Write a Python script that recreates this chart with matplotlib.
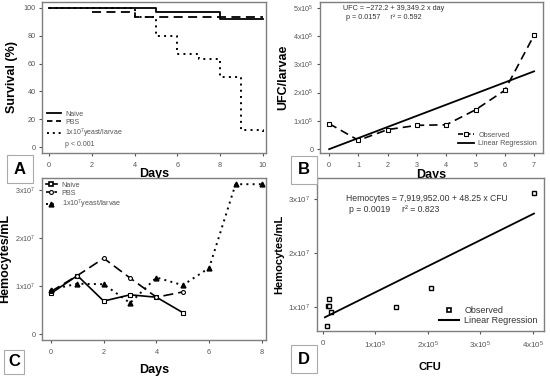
import matplotlib
matplotlib.use("Agg")
import matplotlib.pyplot as plt
from matplotlib.lines import Line2D
import numpy as np

plt.rcParams['font.family'] = ['Liberation Sans', 'DejaVu Sans']
plt.rcParams['mathtext.default'] = 'regular'

# A: survival curves (step changes)
naive_days = [0, 5, 8, 10]
naive_surv = [100, 96.7, 91.7, 91.7]
pbs_days = [2, 4, 10]
pbs_surv = [96.7, 93.7, 93.7]
yeast_days = [0, 4, 5, 6, 7, 8, 9, 10]
yeast_surv = [100, 93.7, 80, 66.7, 63.3, 50, 12.5, 8.5]

# B: fungal burden
b_days = [0, 1, 2, 3, 4, 5, 6, 7]
b_ufc = [0.90e5, 0.31e5, 0.69e5, 0.84e5, 0.86e5, 1.39e5, 2.08e5, 4.03e5]
b_intercept = -272.2
b_slope = 39349.2

# C: hemocytes over time
c_naive_days = [0, 1, 2, 3, 4, 5]
c_naive = [0.85e7, 1.22e7, 0.69e7, 0.82e7, 0.77e7, 0.45e7]
c_pbs_days = [0, 1, 2, 3, 4, 5]
c_pbs = [0.89e7, 1.22e7, 1.58e7, 1.17e7, 0.77e7, 0.88e7]
c_yeast_days = [0, 1, 2, 3, 4, 5, 6, 7, 8]
c_yeast = [0.93e7, 1.05e7, 1.04e7, 0.65e7, 1.18e7, 1.02e7, 1.38e7, 3.12e7, 3.12e7]

# D: hemocytes vs CFU
d_cfu = [0.09e5, 0.12e5, 0.11e5, 0.13e5, 0.16e5, 1.39e5, 2.06e5, 4.02e5]
d_hemo = [0.648e7, 1.154e7, 1.02e7, 1.03e7, 0.92e7, 1.0e7, 1.36e7, 3.12e7]
d_intercept = 7919952.00
d_slope = 48.25
d_fit_x = [0.044e5, 4.02e5]

gray = '#7f7f7f'
tick_col = '#555555'

fig = plt.figure(figsize=(5.5, 3.76), dpi=100)
axA = fig.add_axes([0.0764, 0.593, 0.407, 0.402])
axB = fig.add_axes([0.582, 0.593, 0.405, 0.402])
axC = fig.add_axes([0.0764, 0.0957, 0.407, 0.431])
axD = fig.add_axes([0.576, 0.1197, 0.413, 0.407])

def style(ax):
    for s in ax.spines.values():
        s.set_color(gray)
        s.set_linewidth(1.0)
    ax.tick_params(colors=tick_col, labelsize=5.2, length=2.5, width=0.8, pad=2)
    ax.tick_params(axis='x', pad=4)

for ax in (axA, axB, axC, axD):
    style(ax)

# Panel A
axA.step(naive_days, naive_surv, where='post', color='black', lw=1.3)
axA.step(pbs_days, pbs_surv, where='post', color='black', lw=1.3, ls=(0, (5, 3)))
axA.step(yeast_days, yeast_surv, where='post', color='black', lw=1.4, ls=(0, (1, 2.2)))
axA.set_xlim(-0.33, 10.14)
axA.set_ylim(-4.3, 104.3)
axA.set_xticks([0, 2, 4, 6, 8, 10])
axA.set_yticks([0, 20, 40, 60, 80, 100])
axA.set_ylabel('Survival (%)', fontsize=9, fontweight='bold', labelpad=4)
axA.set_xlabel('Days', fontsize=9, fontweight='bold', labelpad=-1)
hA = [Line2D([], [], color='black', lw=1.3),
      Line2D([], [], color='black', lw=1.3, ls=(0, (3, 2))),
      Line2D([], [], color='black', lw=1.4, ls=(0, (1, 2))),
      Line2D([], [], color='none')]
axA.legend(hA, ['Naive', 'PBS', '1x10$^7$yeast/larvae', 'p < 0.001'],
           loc='lower left', fontsize=5, frameon=False, handlelength=2,
           labelspacing=0.15, borderaxespad=0.3, handletextpad=0.6,
           labelcolor=tick_col)

# Panel B
axB.plot(b_days, b_ufc, color='black', lw=1.2, ls=(0, (5, 3)), marker='s',
         ms=3, mfc='white', mec='black', mew=0.8)
bx = np.array([b_days[0], b_days[-1]])
axB.plot(bx, b_intercept + b_slope * bx, color='black', lw=1.3)
axB.set_xlim(-0.31, 7.3)
axB.set_ylim(-0.14e5, 5.21e5)
axB.set_xticks(range(8))
axB.set_yticks([0, 1e5, 2e5, 3e5, 4e5, 5e5])
axB.set_yticklabels(['0'] + ['%dx10$^5$' % i for i in range(1, 6)])
axB.set_ylabel('UFC/larvae', fontsize=9, fontweight='bold', labelpad=3)
axB.set_xlabel('Days', fontsize=9, fontweight='bold', labelpad=0)
axB.text(0.105, 0.955, 'UFC = \u2212272.2 + 39,349.2 x day', transform=axB.transAxes,
         fontsize=5.2, color='#333333', va='center')
axB.text(0.115, 0.895, 'p = 0.0157     r\u00b2 = 0.592', transform=axB.transAxes,
         fontsize=5.2, color='#333333', va='center')
hB = [Line2D([], [], color='black', lw=1.2, ls=(0, (3, 1.5)), marker='s', ms=3,
             mfc='white', mec='black', mew=0.8),
      Line2D([], [], color='black', lw=1.3)]
axB.legend(hB, ['Observed', 'Linear Regression'], loc='lower right', fontsize=5.2,
           frameon=False, handlelength=2.2, labelspacing=0.2, borderaxespad=0.4,
           handletextpad=0.6, labelcolor=tick_col)

# Panel C
axC.plot(c_naive_days, c_naive, color='black', lw=1.2, marker='s', ms=2.8,
         mfc='white', mec='black', mew=0.8)
axC.plot(c_pbs_days, c_pbs, color='black', lw=1.2, ls=(0, (6, 3)), marker='o',
         ms=2.8, mfc='white', mec='black', mew=0.8)
axC.plot(c_yeast_days, c_yeast, color='black', lw=1.4, ls=(0, (1, 2.2)), marker='^',
         ms=3.5, mfc='black', mec='black')
axC.set_xlim(-0.34, 8.15)
axC.set_ylim(-0.12e7, 3.25e7)
axC.set_xticks([0, 2, 4, 6, 8])
axC.set_yticks([0, 1e7, 2e7, 3e7])
axC.set_yticklabels(['0', '1x10$^7$', '2x10$^7$', '3x10$^7$'])
axC.set_ylabel('Hemocytes/mL', fontsize=9, fontweight='bold', labelpad=3)
axC.set_xlabel('Days', fontsize=9, fontweight='bold', labelpad=6)
hC = [Line2D([], [], color='black', lw=1.2, marker='s', ms=3, mfc='white',
             mec='black', mew=1.2),
      Line2D([], [], color='black', lw=1.2, ls=(0, (3, 2)), marker='o', ms=2.8,
             mfc='white', mec='black', mew=0.8),
      Line2D([], [], color='black', lw=1.4, ls=(0, (1, 2)), marker='^', ms=3.5,
             mfc='black', mec='black')]
axC.legend(hC, ['Naive', 'PBS', '1x10$^7$yeast/larvae'], loc='upper left',
           fontsize=5.2, frameon=False, handlelength=1.6, labelspacing=0.15,
           borderaxespad=0.1, handletextpad=0.6, labelcolor=tick_col)

# Panel D
axD.plot(d_cfu, d_hemo, ls='none', marker='s', ms=3.2, mfc='white', mec='black',
         mew=1.0)
dx = np.array(d_fit_x)
axD.plot(dx, d_intercept + d_slope * dx, color='black', lw=1.3)
axD.set_xlim(-0.11e5, 4.21e5)
axD.set_ylim(0.56e7, 3.39e7)
axD.set_xticks([0, 1e5, 2e5, 3e5, 4e5])
axD.set_xticklabels(['0'] + ['%dx10$^5$' % i for i in range(1, 5)])
axD.set_yticks([1e7, 2e7, 3e7])
axD.set_yticklabels(['1x10$^7$', '2x10$^7$', '3x10$^7$'])
axD.tick_params(labelsize=5.8)
axD.set_ylabel('Hemocytes/mL', fontsize=8, fontweight='bold', labelpad=3)
axD.set_xlabel('CFU', fontsize=8, fontweight='bold', labelpad=8)
axD.text(0.13, 0.865, 'Hemocytes = 7,919,952.00 + 48.25 x CFU', transform=axD.transAxes,
         fontsize=6.2, color='#333333', va='center')
axD.text(0.14, 0.795, 'p = 0.0019     r\u00b2 = 0.823', transform=axD.transAxes,
         fontsize=6.2, color='#333333', va='center')
hD = [Line2D([], [], ls='none', marker='s', ms=3.5, mfc='white', mec='black', mew=1.2),
      Line2D([], [], color='black', lw=1.5)]
axD.legend(hD, ['Observed', 'Linear Regression'], loc='lower right', fontsize=6.5,
           frameon=False, handlelength=2.2, labelspacing=0.1, borderaxespad=0.3,
           handletextpad=0.6, labelcolor='#333333')

# panel letters in boxes
for lab, x, y, pad in [('A', 20, 169, 0.4), ('B', 304, 170, 0.4),
                       ('C', 14, 362, 0.25), ('D', 304, 359, 0.4)]:
    fig.text(x / 550, 1 - y / 376, lab, fontsize=12, fontweight='bold', ha='center',
             va='center',
             bbox=dict(boxstyle='square,pad=%s' % pad, fc='white', ec='#aaaaaa', lw=0.8))

fig.savefig('out.png', dpi=100)
